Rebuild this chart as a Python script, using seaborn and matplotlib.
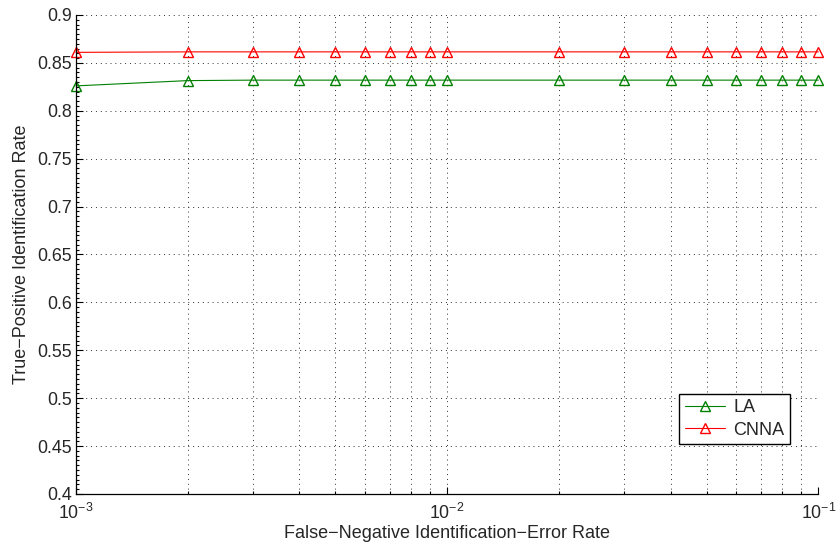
import numpy as np
import pandas as pd
import matplotlib
matplotlib.use("Agg")
import matplotlib.pyplot as plt
from matplotlib.ticker import MultipleLocator, LogLocator, NullFormatter
import seaborn as sns

# taxas de erro (eixo x, log)
fnr = [0.001, 0.002, 0.003, 0.004, 0.005, 0.006, 0.007, 0.008, 0.009, 0.01,
       0.02, 0.03, 0.04, 0.05, 0.06, 0.07, 0.08, 0.09, 0.1]
la = [0.826, 0.8315, 0.832, 0.832, 0.832, 0.832, 0.832, 0.832, 0.832, 0.832,
      0.832, 0.832, 0.832, 0.832, 0.832, 0.832, 0.832, 0.832, 0.832]
cnna = [0.861, 0.8615, 0.8615, 0.8615, 0.8615, 0.8615, 0.8615, 0.8615, 0.8615, 0.8615,
        0.8615, 0.8615, 0.8615, 0.8615, 0.8615, 0.8615, 0.8615, 0.8615, 0.8615]
metodos = ["LA", "CNNA"]
cores = {"LA": "#008000", "CNNA": "#ff0000"}

df = pd.DataFrame({
    "fnr": fnr * 2,
    "tpr": la + cnna,
    "metodo": ["LA"] * len(fnr) + ["CNNA"] * len(fnr),
})

sns.set_style("white")
plt.rcParams["font.family"] = ["Liberation Sans", "DejaVu Sans"]

fig = plt.figure(figsize=(8.36, 5.49), dpi=100)
ax = fig.add_axes([0.0909, 0.1002, 0.888, 0.8725])

sns.lineplot(data=df, x="fnr", y="tpr", hue="metodo", hue_order=metodos,
             palette=cores, marker="^", markersize=7.5, linewidth=0.8,
             legend=False, ax=ax)

# marcadores vazados (seaborn põe borda branca por padrão)
for ln in ax.lines:
    ln.set_markerfacecolor("none")
    ln.set_markeredgecolor(ln.get_color())
    ln.set_markeredgewidth(1.0)
    ln.set_clip_on(False)

ax.set_xscale("log")
ax.set_xlim(0.001, 0.1)
ax.set_ylim(0.4, 0.9)
ax.set_yticks(np.arange(0.4, 0.901, 0.05))
ax.set_yticklabels(["0.4", "0.45", "0.5", "0.55", "0.6", "0.65", "0.7",
                    "0.75", "0.8", "0.85", "0.9"])
ax.yaxis.set_minor_locator(MultipleLocator(0.005))
ax.xaxis.set_minor_locator(LogLocator(base=10, subs=np.arange(2, 10)))
ax.xaxis.set_minor_formatter(NullFormatter())

pontilhado = (0, (1, 4))
ax.grid(True, which="major", axis="y", linestyle=pontilhado, color="#303030", linewidth=0.7)
ax.grid(True, which="both", axis="x", linestyle=pontilhado, color="#303030", linewidth=0.7)
ax.tick_params(which="both", direction="in", labelsize=12.8, top=False, right=False,
               left=True, bottom=True, width=0.8, color="black")
ax.tick_params(which="major", length=5)
ax.tick_params(which="minor", length=2.5)
ax.tick_params(axis="x", which="major", pad=6.5)
ax.tick_params(axis="y", which="major", pad=3)
for s in ["top", "right"]:
    ax.spines[s].set_visible(False)
for s in ["left", "bottom"]:
    ax.spines[s].set_color("black")
    ax.spines[s].set_linewidth(0.9)

ax.set_xlabel("False\u2212Negative Identification\u2212Error Rate", fontsize=13, labelpad=1)
ax.set_ylabel("True\u2212Positive Identification Rate", fontsize=13, labelpad=5)

leg = ax.legend(ax.lines[:2], metodos, loc="lower right",
                bbox_to_anchor=(0.962, 0.104), borderaxespad=0,
                fontsize=13, frameon=True, fancybox=False, borderpad=0.3,
                handlelength=2.25, handletextpad=0.45, labelspacing=0.3)
leg.get_frame().set_edgecolor("black")
leg.get_frame().set_linewidth(1.0)
leg.get_frame().set_alpha(1)

plt.savefig("out.png", dpi=100)
